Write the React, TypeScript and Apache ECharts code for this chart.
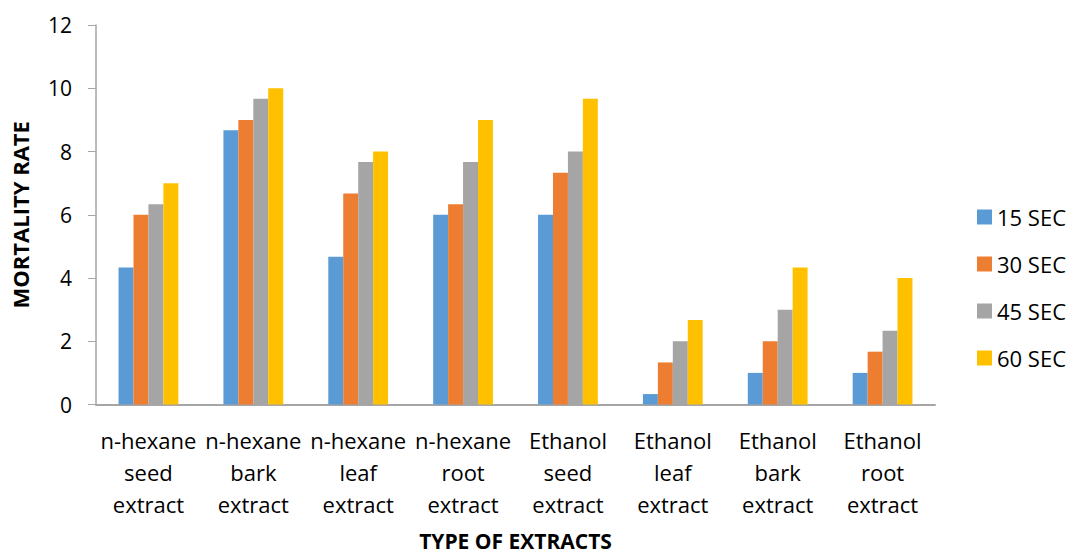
import React, { useEffect, useRef } from "react";
import * as echarts from "echarts";

const categories = [
  "n-hexane\nseed\nextract",
  "n-hexane\nbark\nextract",
  "n-hexane\nleaf\nextract",
  "n-hexane\nroot\nextract",
  "Ethanol\nseed\nextract",
  "Ethanol\nleaf\nextract",
  "Ethanol\nbark\nextract",
  "Ethanol\nroot\nextract",
];
const seriesNames = ["15 SEC", "30 SEC", "45 SEC", "60 SEC"];
const sec15 = [4.33, 8.67, 4.67, 6, 6, 0.33, 1, 1];
const sec30 = [6, 9, 6.67, 6.33, 7.33, 1.33, 2, 1.67];
const sec45 = [6.33, 9.67, 7.67, 7.67, 8, 2, 3, 2.33];
const sec60 = [7, 10, 8, 9, 9.67, 2.67, 4.33, 4];
const colors = ["#5B9BD5", "#ED7D31", "#A5A5A5", "#FFC000"];

const FONT = "'Open Sans', sans-serif";

export default function App() {
  const ref = useRef<HTMLDivElement>(null);
  useEffect(() => {
    if (!ref.current) return;
    const chart = echarts.init(ref.current, undefined, { renderer: "svg" });
    const data = [sec15, sec30, sec45, sec60];
    chart.setOption({
      animation: false,
      textStyle: { fontFamily: FONT },
      grid: {
        left: 96,
        right: 139,
        top: 25,
        bottom: 149.5,
        containLabel: false,
        outerBoundsMode: "none",
      },
      legend: {
        orient: "vertical",
        left: 972,
        top: 201,
        itemWidth: 15,
        itemHeight: 15,
        itemGap: 25,
        icon: "rect",
        textStyle: { fontSize: 22, color: "#000", fontFamily: FONT },
        data: seriesNames,
      },
      xAxis: {
        type: "category",
        data: categories,
        name: "TYPE OF EXTRACTS",
        nameLocation: "middle",
        nameGap: 125,
        nameTextStyle: {
          fontSize: 21,
          lineHeight: 22,
          fontWeight: "bold",
          color: "#000",
          fontFamily: FONT,
        },
        axisLine: { lineStyle: { color: "#A6A6A6", width: 2 } },
        axisTick: { show: false },
        axisLabel: {
          interval: 0,
          fontSize: 22,
          color: "#000",
          lineHeight: 32,
          margin: 19,
          fontFamily: FONT,
        },
      },
      yAxis: {
        type: "value",
        min: 0,
        max: 12,
        interval: 2,
        name: "MORTALITY RATE",
        nameLocation: "middle",
        nameGap: 65,
        nameRotate: 90,
        nameTextStyle: { fontSize: 22, fontWeight: "bold", color: "#000", fontFamily: FONT },
        axisLine: { show: true, lineStyle: { color: "#A6A6A6", width: 1.5 } },
        axisTick: { show: true, length: 8, lineStyle: { color: "#A6A6A6" } },
        axisLabel: { fontSize: 21, color: "#000", margin: 24, fontFamily: FONT },
        splitLine: { show: false },
      },
      series: seriesNames.map((n, i) => ({
        name: n,
        type: "bar",
        data: data[i],
        itemStyle: { color: colors[i] },
        barGap: "0%",
        barCategoryGap: "43%",
      })),
    });
    return () => chart.dispose();
  }, []);
  return <div ref={ref} style={{ width: 1074, height: 554, position: "absolute", left: 0, top: 0 }} />;
}
